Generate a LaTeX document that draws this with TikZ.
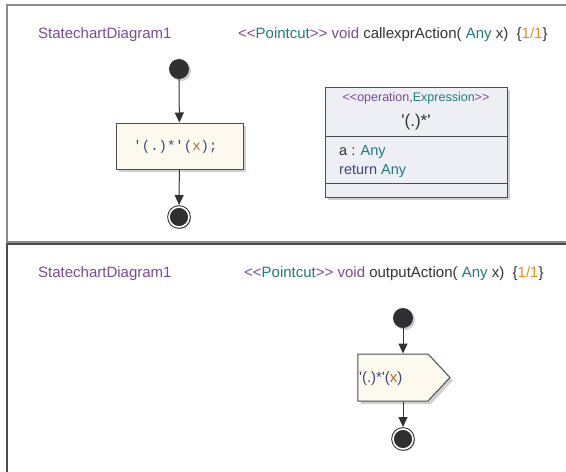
\documentclass[tikz,border=0pt]{standalone}
\usepackage{fontspec}
\usepackage{tikz}
\usetikzlibrary{arrows.meta, shadows, shapes.symbols}
\newfontfamily\umlsans{Liberation Sans}
\newfontfamily\umlmono{Liberation Mono}
\definecolor{umlpurple}{HTML}{774C92}
\definecolor{umlteal}{HTML}{1F7C78}
\definecolor{umlorange}{HTML}{D8921F}
\definecolor{umltext}{HTML}{333333}
\definecolor{codeblue}{HTML}{3E4683}
\definecolor{codebrown}{HTML}{B4662F}
\definecolor{statefill}{HTML}{2F2F34}
\definecolor{actionfill}{HTML}{FDF9EE}
\definecolor{classfill}{HTML}{EEEEF5}
\newcommand*{\stereo}[1]{\textcolor{umlpurple}{<<}#1\textcolor{umlpurple}{>>}}
\newcommand*{\anytype}{\textcolor{umlteal}{Any}}
\newcommand*{\cutline}[1]{\stereo{\textcolor{umlteal}{Pointcut}} \textcolor{umlpurple}{void} #1( \anytype{} x)\ \ \{\textcolor{umlorange}{1/1}\}}

\tikzset{
  title/.style={anchor=base west, inner sep=0pt, text=umltext,
    font=\umlsans\fontsize{15}{18}\selectfont},
  initstate/.style={circle, fill=statefill, minimum size=20pt, inner sep=0pt,
    drop shadow={shadow xshift=2pt, shadow yshift=-2pt, fill=black!20, opacity=1}},
  finalstate/.style={circle, fill=statefill, draw=statefill, line width=1pt,
    double=white, double distance=1.6pt, minimum size=20pt, inner sep=0pt, outer sep=2pt,
    drop shadow={shadow xshift=2pt, shadow yshift=-2pt, fill=black!20, opacity=1}},
  actionbox/.style={rectangle, draw=black!70, fill=actionfill, line width=1pt,
    minimum width=127pt, minimum height=46pt, inner sep=0pt,
    drop shadow={shadow xshift=3pt, shadow yshift=-3pt, fill=black!18, opacity=1}},
  sendsig/.style={signal, signal to=east, signal pointer angle=94, draw=black!70,
    fill=actionfill, line width=1pt, minimum width=92pt, minimum height=47pt, inner sep=0pt,
    drop shadow={shadow xshift=3pt, shadow yshift=-3pt, fill=black!18, opacity=1}},
  opbox/.style={rectangle, draw=black!70, fill=classfill, line width=1pt,
    minimum width=182pt, minimum height=110pt, inner sep=0pt,
    drop shadow={shadow xshift=3pt, shadow yshift=-3pt, fill=black!18, opacity=1}},
  flow/.style={draw=umltext, line width=1pt, -{Triangle[length=10pt, width=9pt]}}
}

\begin{document}
\begin{tikzpicture}[x=1pt, y=-1pt]
  \useasboundingbox (0,0) rectangle (566,472);

  % the two diagram panels
  \draw [black!45, line width=1.5pt] (566,5) -- (7,5) -- (7,242) -- (566,242);
  \draw [black!70, line width=1.5pt] (566,244) -- (7,244) -- (7,472);

  \foreach \y/\n in {38.5/1, 277.5/2}
  {
    \node [title, text=umlpurple] (diag\n) at (38,\y) {StatechartDiagram1};
  }
  \node [title] (cut1) at (238,38.5) {\cutline{callexprAction}};
  \node [title] (cut2) at (244,277.5) {\cutline{outputAction}};

  % callexprAction
  \node [initstate] (init1) at (179,69) {};
  \node [actionbox] (act1) at (179.5,146) {};
  \node [anchor=base, inner sep=0pt, font=\umlmono\fontsize{14}{16}\selectfont] (code1)
    at (175.5,150.5) {\textcolor{codeblue}{'(.)*'(}\textcolor{codebrown}{x}\textcolor{codeblue}{);}};
  \node [finalstate] (final1) at (179,217) {};

  \draw [flow] (init1) -- (act1);
  \draw [flow] (act1) -- (final1);

  \node [opbox] (op1) at (416,142) {};
  \draw [black!70, line width=1pt] (op1.west |- 0,136) -- (op1.east |- 0,136);
  \draw [black!70, line width=1pt] (op1.west |- 0,183) -- (op1.east |- 0,183);
  \node [anchor=base, inner sep=0pt, text=umlpurple, font=\umlsans\fontsize{12.5}{15}\selectfont] (opst1)
    at (416,101.5) {<<operation,\textcolor{umlteal}{Expression}>>};
  \node [anchor=base, inner sep=0pt, text=umltext, font=\umlsans\fontsize{17}{20}\selectfont] (opname1)
    at (416,126.5) {'(.)*'};
  \node [title, font=\umlsans\fontsize{14.5}{17}\selectfont] (oparg1) at (339,155) {a : \anytype};
  \node [title, text=codeblue, font=\umlsans\fontsize{14.5}{17}\selectfont] (opret1)
    at (339,174) {return \anytype};

  % outputAction
  \node [initstate] (init2) at (403,318) {};
  \node [sendsig] (send2) at (393,377.5) {};
  \node [title, text=codeblue] (sendtxt2) at (359,382.5) {'(.)*'(\textcolor{codebrown}{x})};
  \node [finalstate] (final2) at (403,439) {};

  \draw [flow] (init2) -- (init2 |- send2.north);
  \draw [flow] (init2 |- send2.south) -- (final2);
\end{tikzpicture}
\end{document}
